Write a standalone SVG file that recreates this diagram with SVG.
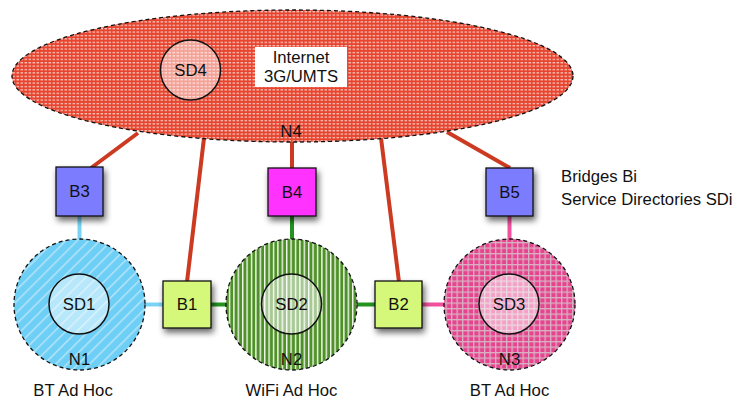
<svg xmlns="http://www.w3.org/2000/svg" width="737" height="400" viewBox="0 0 737 400">
<defs>
<style>
text{font-family:"Liberation Sans",Arial,sans-serif;font-size:16.7px;fill:#111;text-anchor:middle}
.net{stroke:#111;stroke-width:1.3;stroke-dasharray:4 3}
.sd{fill:#fff;fill-opacity:0.5;stroke:#111;stroke-width:1.5}
.box{stroke:#111;stroke-width:1.3}
.red{stroke:#cc3a22;stroke-width:4;fill:none}
.lb{stroke:#7ad2f5;stroke-width:4}
.gr{stroke:#23921f;stroke-width:4}
.pk{stroke:#f0509c;stroke-width:4}
</style>
<pattern id="pRed" width="4" height="3.4" patternUnits="userSpaceOnUse">
<rect width="4" height="3.4" fill="#e8432c"/>
<rect x="0.5" y="1" width="2.6" height="1.1" fill="#fff" fill-opacity="0.8"/>
</pattern>
<pattern id="pBlue" width="8" height="8" patternUnits="userSpaceOnUse" patternTransform="rotate(-45)">
<rect width="8" height="8" fill="#6dcff6"/>
<rect x="0" y="0" width="8" height="1.5" fill="#b5e4f7"/>
</pattern>
<pattern id="pGreen" width="4.4" height="10" patternUnits="userSpaceOnUse">
<rect width="4.4" height="10" fill="#4e9128"/>
<rect x="0" y="0" width="1.4" height="10" fill="#f2f8ee"/>
</pattern>
<pattern id="pPink" width="5.5" height="5.5" patternUnits="userSpaceOnUse">
<rect width="5.5" height="5.5" fill="#e8438e"/>
<rect x="0" y="0" width="5.5" height="1.3" fill="#d7b2c2"/>
<rect x="0" y="0" width="1.3" height="5.5" fill="#d7b2c2"/>
</pattern>
<filter id="sh" x="-30%" y="-30%" width="170%" height="170%">
<feGaussianBlur in="SourceAlpha" stdDeviation="3"/>
<feOffset dx="2" dy="4" result="b"/>
<feComponentTransfer><feFuncA type="linear" slope="0.6"/></feComponentTransfer>
<feMerge><feMergeNode/><feMergeNode in="SourceGraphic"/></feMerge>
</filter>
</defs>
<g id="connectors">
<line class="red" x1="138" y1="133" x2="91" y2="168"/>
<line class="red" x1="204" y1="138" x2="187" y2="282"/>
<line class="red" x1="292" y1="138" x2="292" y2="168"/>
<line class="red" x1="381" y1="138" x2="399" y2="282"/>
<line class="red" x1="447" y1="132" x2="510" y2="168"/>
<line class="lb" x1="79.5" y1="216" x2="79.5" y2="239"/>
<line class="lb" x1="144" y1="304.5" x2="164" y2="304.5"/>
<line class="gr" x1="211" y1="304.5" x2="227" y2="304.5"/>
<line class="gr" x1="292" y1="216" x2="292" y2="239"/>
<line class="gr" x1="356" y1="304.5" x2="376" y2="304.5"/>
<line class="pk" x1="422" y1="304.5" x2="445" y2="304.5"/>
<line class="pk" x1="509.5" y1="216" x2="509.5" y2="239"/>
</g>
<g id="N4">
<ellipse class="net" cx="292.5" cy="76" rx="280.5" ry="66" fill="url(#pRed)"/>
<text x="291" y="137">N4</text>
</g>
<g id="SD4">
<circle class="sd" cx="190.5" cy="70" r="30"/>
<text x="190.5" y="76">SD4</text>
</g>
<g id="internet-label">
<rect x="255" y="47" width="92" height="40" fill="#fff"/>
<text x="301" y="63">Internet</text>
<text x="301" y="82">3G/UMTS</text>
</g>
<g id="N1">
<circle class="net" cx="79.5" cy="304.5" r="65.5" fill="url(#pBlue)"/>
<text x="79.5" y="365">N1</text>
<text x="73" y="396">BT Ad Hoc</text>
</g>
<g id="SD1">
<circle class="sd" cx="79" cy="304" r="30"/>
<text x="79" y="310">SD1</text>
</g>
<g id="N2">
<circle class="net" cx="291.5" cy="304.5" r="65.5" fill="url(#pGreen)"/>
<text x="291.5" y="365">N2</text>
<text x="291.5" y="396">WiFi Ad Hoc</text>
</g>
<g id="SD2">
<circle class="sd" cx="291.5" cy="304" r="30"/>
<text x="291.5" y="310">SD2</text>
</g>
<g id="N3">
<circle class="net" cx="509.5" cy="304.5" r="65.5" fill="url(#pPink)"/>
<text x="509.5" y="365">N3</text>
<text x="509.5" y="396">BT Ad Hoc</text>
</g>
<g id="SD3">
<circle class="sd" cx="509" cy="304" r="30"/>
<text x="509" y="310">SD3</text>
</g>
<g id="B3">
<rect class="box" x="56" y="167" width="47" height="49" fill="#7b7bff" filter="url(#sh)"/>
<text x="79.5" y="197">B3</text>
</g>
<g id="B4">
<rect class="box" x="268" y="168" width="48" height="48" fill="#ff33ff" filter="url(#sh)"/>
<text x="292" y="198">B4</text>
</g>
<g id="B5">
<rect class="box" x="486" y="168" width="47" height="48" fill="#7b7bff" filter="url(#sh)"/>
<text x="509.5" y="198">B5</text>
</g>
<g id="B1">
<rect class="box" x="163" y="281" width="48" height="47" fill="#d5f77a" filter="url(#sh)"/>
<text x="187" y="310">B1</text>
</g>
<g id="B2">
<rect class="box" x="375" y="281" width="47" height="47" fill="#d5f77a" filter="url(#sh)"/>
<text x="398.5" y="310">B2</text>
</g>
<g id="legend">
<text x="561" y="182" style="text-anchor:start">Bridges Bi</text>
<text x="561" y="205" style="text-anchor:start">Service Directories SDi</text>
</g>
</svg>
